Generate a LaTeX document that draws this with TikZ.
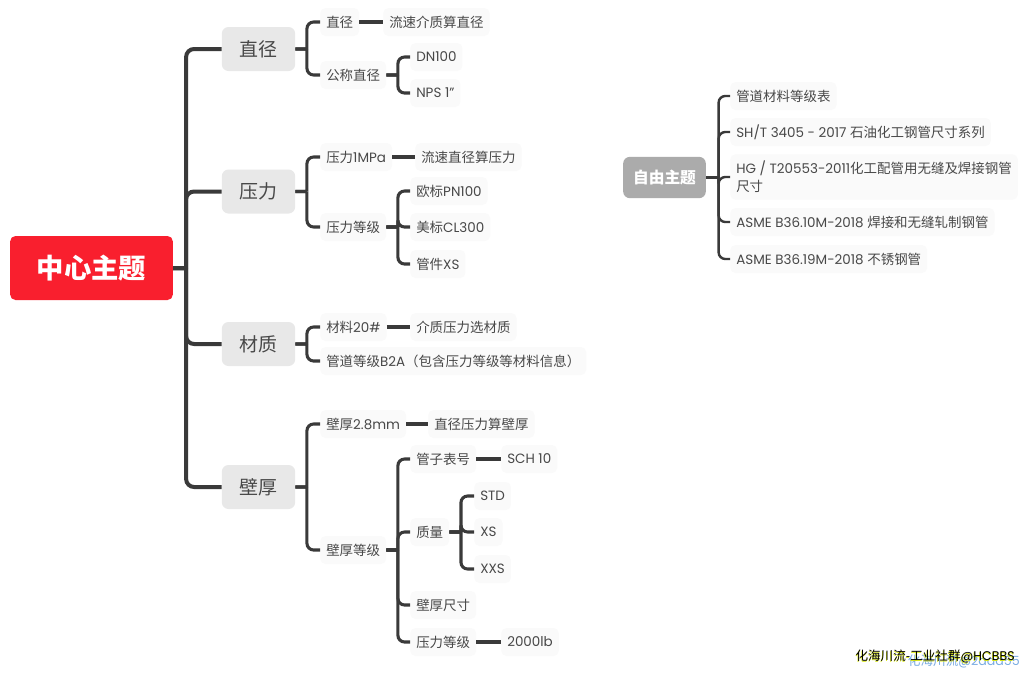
\documentclass[tikz,border=0pt]{standalone}
\usepackage{fontspec}
\setmainfont{Poppins}
\newfontfamily\cjk{Noto Sans CJK SC}
\newcommand{\zh}[1]{{\cjk #1}}
\usetikzlibrary{positioning}
\definecolor{lineGray}{HTML}{3A3A3A}
\definecolor{textGray}{HTML}{484848}
\tikzset{
	rootTopic/.style = {fill={rgb,255:red,249;green,31;blue,46}, text=white, rounded corners=4pt, minimum width=122pt, minimum height=48pt, font=\fontsize{20.5}{24}\selectfont\bfseries},
	mainTopic/.style = {fill={rgb,255:red,232;green,232;blue,232}, text=textGray, rounded corners=5pt, minimum width=55pt, minimum height=33pt, font=\fontsize{14.2}{17}\selectfont},
	freeTopic/.style = {fill={rgb,255:red,171;green,171;blue,171}, text=white, rounded corners=5pt, minimum width=62pt, minimum height=31pt, font=\fontsize{11.8}{14}\selectfont\bfseries},
	subTopic/.style = {fill={rgb,255:red,250;green,250;blue,250}, text=textGray, rounded corners=4pt, anchor=west, inner xsep=4.5pt, minimum height=21pt, font=\fontsize{10.1}{13.5}\selectfont},
	link/.style = {draw=lineGray, line width=2.3pt},
	trunk/.style = {draw=lineGray, line width=3pt},
	thinLink/.style = {draw=lineGray, line width=1.8pt},
	markText/.style = {font=\fontsize{9.45}{11}\selectfont, anchor=east, inner sep=0pt}
}
\begin{document}
\begin{tikzpicture}[x=0.75pt, y=-0.75pt]
	\path[fill=white, use as bounding box] (0,0) rectangle (1024,672);

	\node[rootTopic] (root) at (91.5,268) {\zh{中心主题}};
	\node[mainTopic] (diameter) at (258.5,49) {\zh{直径}};
	\node[mainTopic] (pressure) at (258.5,191.5) {\zh{压力}};
	\node[mainTopic] (material) at (258.5,344) {\zh{材质}};
	\node[mainTopic] (thickness) at (258.5,487) {\zh{壁厚}};

	\node[subTopic] (diaFlow) at (320,22) {\zh{直径}};
	\node[subTopic] (diaFlowCalc) at (383,22) {\zh{流速介质算直径}};
	\node[subTopic] (diaNominal) at (320,75) {\zh{公称直径}};
	\node[subTopic] (dn) at (410,57) {DN100};
	\node[subTopic] (nps) at (410,93) {NPS 1"};

	\node[subTopic] (preValue) at (320,157) {\zh{压力}1MPa};
	\node[subTopic] (preCalc) at (415,157) {\zh{流速直径算压力}};
	\node[subTopic] (preClass) at (320,227) {\zh{压力等级}};
	\node[subTopic] (pn) at (410,191) {\zh{欧标}PN100};
	\node[subTopic] (cl) at (410,227) {\zh{美标}CL300};
	\node[subTopic] (xsPipe) at (410,264) {\zh{管件}XS};

	\node[subTopic] (matValue) at (320,327) {\zh{材料}20\#};
	\node[subTopic] (matCalc) at (410,327) {\zh{介质压力选材质}};
	\node[subTopic] (matClass) at (320,361) {\zh{管道等级}B2A\zh{（包含压力等级等材料信息）}};

	\node[subTopic] (thkValue) at (320,424) {\zh{壁厚}2.8mm};
	\node[subTopic] (thkCalc) at (428,424) {\zh{直径压力算壁厚}};
	\node[subTopic] (thkClass) at (320,550) {\zh{壁厚等级}};
	\node[subTopic] (schedule) at (410,459) {\zh{管子表号}};
	\node[subTopic] (sch) at (501,459) {SCH 10};
	\node[subTopic] (weight) at (410,532) {\zh{质量}};
	\node[subTopic] (std) at (474,496) {STD};
	\node[subTopic] (xs) at (474,532) {XS};
	\node[subTopic] (xxs) at (474,569) {XXS};
	\node[subTopic] (thkSize) at (410,605) {\zh{壁厚尺寸}};
	\node[subTopic] (thkPre) at (410,642) {\zh{压力等级}};
	\node[subTopic] (lb) at (501,642) {2000lb};

	\node[freeTopic] (free) at (664.5,177.5) {\zh{自由主题}};
	\node[subTopic] (freeA) at (730,96) {\zh{管道材料等级表}};
	\node[subTopic] (freeB) at (730,132) {SH/T 3405 - 2017 \zh{石油化工钢管尺寸系列}};
	\node[subTopic, align=left, minimum height=34pt] (freeC) at (730,177) {HG / T20553-2011\zh{化工配管用无缝及焊接钢管}\\\zh{尺寸}};
	\node[subTopic] (freeD) at (730,222) {ASME B36.10M-2018 \zh{焊接和无缝轧制钢管}};
	\node[subTopic] (freeE) at (730,259) {ASME B36.19M-2018 \zh{不锈钢管}};

	\foreach \to in {diameter, pressure, material, thickness}
		\draw[trunk] (root.east) -- ++(13,0) ++(0,0) [rounded corners=6pt] |- (\to.west);

	\foreach \from/\to in {diameter/diaFlow, diameter/diaNominal, pressure/preValue, pressure/preClass, material/matValue, material/matClass, thickness/thkValue, thickness/thkClass, diaNominal/dn, diaNominal/nps, preClass/pn, preClass/cl, preClass/xsPipe, thkClass/schedule, thkClass/weight, thkClass/thkSize, thkClass/thkPre, weight/std, weight/xs, weight/xxs}
		\draw[link] (\from.east) -- ++(11.5,0) ++(0,0) [rounded corners=5pt] |- (\to.west);

	\foreach \from/\to in {diaFlow/diaFlowCalc, preValue/preCalc, matValue/matCalc, thkValue/thkCalc, schedule/sch, thkPre/lb}
		\draw[link] (\from.east) -- (\to.west);

	\foreach \to in {freeA, freeB, freeC, freeD, freeE}
		\draw[thinLink] (free.east) -- ++(12.5,0) ++(0,0) [rounded corners=5pt] |- (\to.west);

	\node[markText, text={rgb,255:red,120;green,170;blue,225}] (markBlue) at (1020,661) {\zh{化海川流}@2aaa55};
	\node[markText, text=yellow!85!green] (markShadow) at (1014.5,657.5) {\zh{化海川流-工业社群}@HCBBS};
	\node[markText, text=black] (markFront) at (1015,656.5) {\zh{化海川流-工业社群}@HCBBS};
\end{tikzpicture}
\end{document}
